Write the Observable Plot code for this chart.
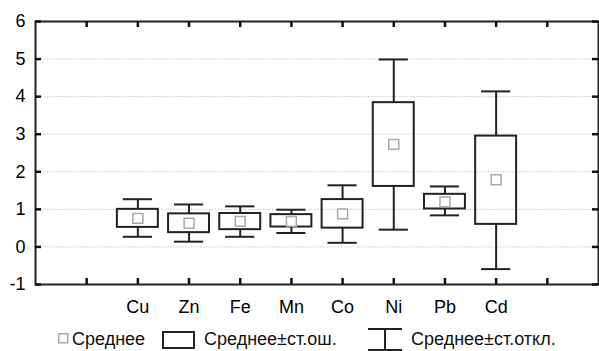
<!DOCTYPE html>
<html>
<head>
<meta charset="utf-8">
<script src="https://cdn.jsdelivr.net/npm/d3@7"></script>
<script src="https://cdn.jsdelivr.net/npm/@observablehq/plot@0.6"></script>
<style>
  body { margin: 0; background: #fff; font-family: "Liberation Sans", Arial, sans-serif; }
  #chart svg { display: block; }
  #legend { position: relative; width: 599px; height: 31px; font-size: 18px; color: #111; }
  #legend .it { position: absolute; white-space: nowrap; line-height: 20px; }
</style>
</head>
<body>
<div id="chart"></div>
<div id="legend"></div>
<script>
// Data
const categories = ["Cu", "Zn", "Fe", "Mn", "Co", "Ni", "Pb", "Cd"];
const means  = [0.76, 0.63, 0.68, 0.68, 0.88, 2.73, 1.20, 1.79];
const seLow  = [0.52, 0.38, 0.46, 0.53, 0.50, 1.61, 1.01, 0.60];
const seHigh = [1.00, 0.88, 0.89, 0.86, 1.26, 3.84, 1.40, 2.95];
const sdLow  = [0.27, 0.14, 0.27, 0.37, 0.11, 0.46, 0.84, -0.59];
const sdHigh = [1.27, 1.13, 1.08, 0.99, 1.64, 4.99, 1.61, 4.14];
const yTicks = [-1, 0, 1, 2, 3, 4, 5, 6];
const gridValues = [0, 1, 2, 3, 4, 5];
const legendLabels = ["Среднее", "Среднее±ст.ош.", "Среднее±ст.откл."];

// category slots: two empty slots on each side of the axis
const slotOffset = 2;
const slotCount = categories.length + 2 * slotOffset - 1; // 11
const xTicks = d3.range(1, slotCount);
const xDomain = [0, slotCount];
const yDomain = [yTicks[0], yTicks[yTicks.length - 1]];

const table = categories.map((c, i) => ({
  name: c, pos: i + slotOffset,
  mean: means[i], seLow: seLow[i], seHigh: seHigh[i], sdLow: sdLow[i], sdHigh: sdHigh[i]
}));

const W = 599, H = 320, mL = 35, mR = 1, mT = 21, mB = 36;
const innerW = W - mL - mR, innerH = H - mT - mB, tickLen = 6;
// tick length converted to data units of each scale
const tlx = tickLen * (xDomain[1] - xDomain[0]) / innerW;
const tly = tickLen * (yDomain[1] - yDomain[0]) / innerH;
const boxHalf = 0.4, capHalf = 0.285;
const ink = "#222";
const tk = { stroke: ink, strokeWidth: 2 };
const tickStyle = { stroke: "#111", strokeWidth: 2.5, strokeOpacity: 1 };

const plot = Plot.plot({
  width: W,
  height: H,
  marginLeft: mL,
  marginRight: mR,
  marginTop: mT,
  marginBottom: mB,
  style: { fontFamily: "'Liberation Sans', Arial, sans-serif", fontSize: "18px", color: "#000", background: "#fff" },
  x: { type: "linear", domain: xDomain, label: null },
  y: { domain: yDomain, label: null },
  marks: [
    Plot.gridY(gridValues, { stroke: "#c8c8c8", strokeOpacity: 1, strokeDasharray: "1.5,1.5" }),
    // whiskers
    Plot.ruleX(table, { x: "pos", y1: "seHigh", y2: "sdHigh", ...tk }),
    Plot.ruleX(table, { x: "pos", y1: "seLow", y2: "sdLow", ...tk }),
    Plot.ruleY(table, { y: "sdHigh", x1: d => d.pos - capHalf, x2: d => d.pos + capHalf, ...tk }),
    Plot.ruleY(table, { y: "sdLow", x1: d => d.pos - capHalf, x2: d => d.pos + capHalf, ...tk }),
    // boxes
    Plot.rect(table, { x1: d => d.pos - boxHalf, x2: d => d.pos + boxHalf, y1: "seLow", y2: "seHigh", fill: "none", ...tk }),
    // means
    Plot.dot(table, { x: "pos", y: "mean", symbol: "square", r: 5.6, fill: "#fff", stroke: "#a8a8a8", strokeWidth: 1.5 }),
    Plot.frame({ stroke: ink, strokeWidth: 2 }),
    // inward ticks on all four sides
    Plot.ruleY(yTicks, { y: d => d, x1: () => xDomain[0], x2: () => xDomain[0] + tlx, ...tickStyle }),
    Plot.ruleY(yTicks, { y: d => d, x1: () => xDomain[1] - tlx, x2: () => xDomain[1], ...tickStyle }),
    Plot.ruleX(xTicks, { x: d => d, y1: () => yDomain[0], y2: () => yDomain[0] + tly, ...tickStyle }),
    Plot.ruleX(xTicks, { x: d => d, y1: () => yDomain[1] - tly, y2: () => yDomain[1], ...tickStyle }),
    // labels
    Plot.axisY({ ticks: yTicks, anchor: "left", tickSize: 0, tickPadding: 10, tickFormat: d => String(d), fill: "#000", label: null }),
    Plot.axisX({ ticks: table.map(d => d.pos), anchor: "bottom", tickSize: 0, tickPadding: 16,
      tickFormat: p => categories[p - slotOffset], fill: "#000", label: null })
  ]
});
document.getElementById("chart").appendChild(plot);

// Legend below the chart
const lg = document.getElementById("legend");
lg.innerHTML = `
  <svg class="it" style="left:58px;top:13px" width="11" height="11"><rect x="0.75" y="0.75" width="9" height="9" fill="#fff" stroke="#a8a8a8" stroke-width="1.5"/></svg>
  <span class="it" style="left:72px;top:9px">${legendLabels[0]}</span>
  <svg class="it" style="left:162px;top:11px" width="34" height="18"><rect x="1" y="1" width="31" height="16" fill="none" stroke="${ink}" stroke-width="2"/></svg>
  <span class="it" style="left:204px;top:9px">${legendLabels[1]}</span>
  <svg class="it" style="left:367px;top:8px" width="36" height="23"><path d="M1,1H35M18,1V22M1,22H35" fill="none" stroke="${ink}" stroke-width="2"/></svg>
  <span class="it" style="left:411px;top:9px">${legendLabels[2]}</span>
`;
</script>
</body>
</html>
